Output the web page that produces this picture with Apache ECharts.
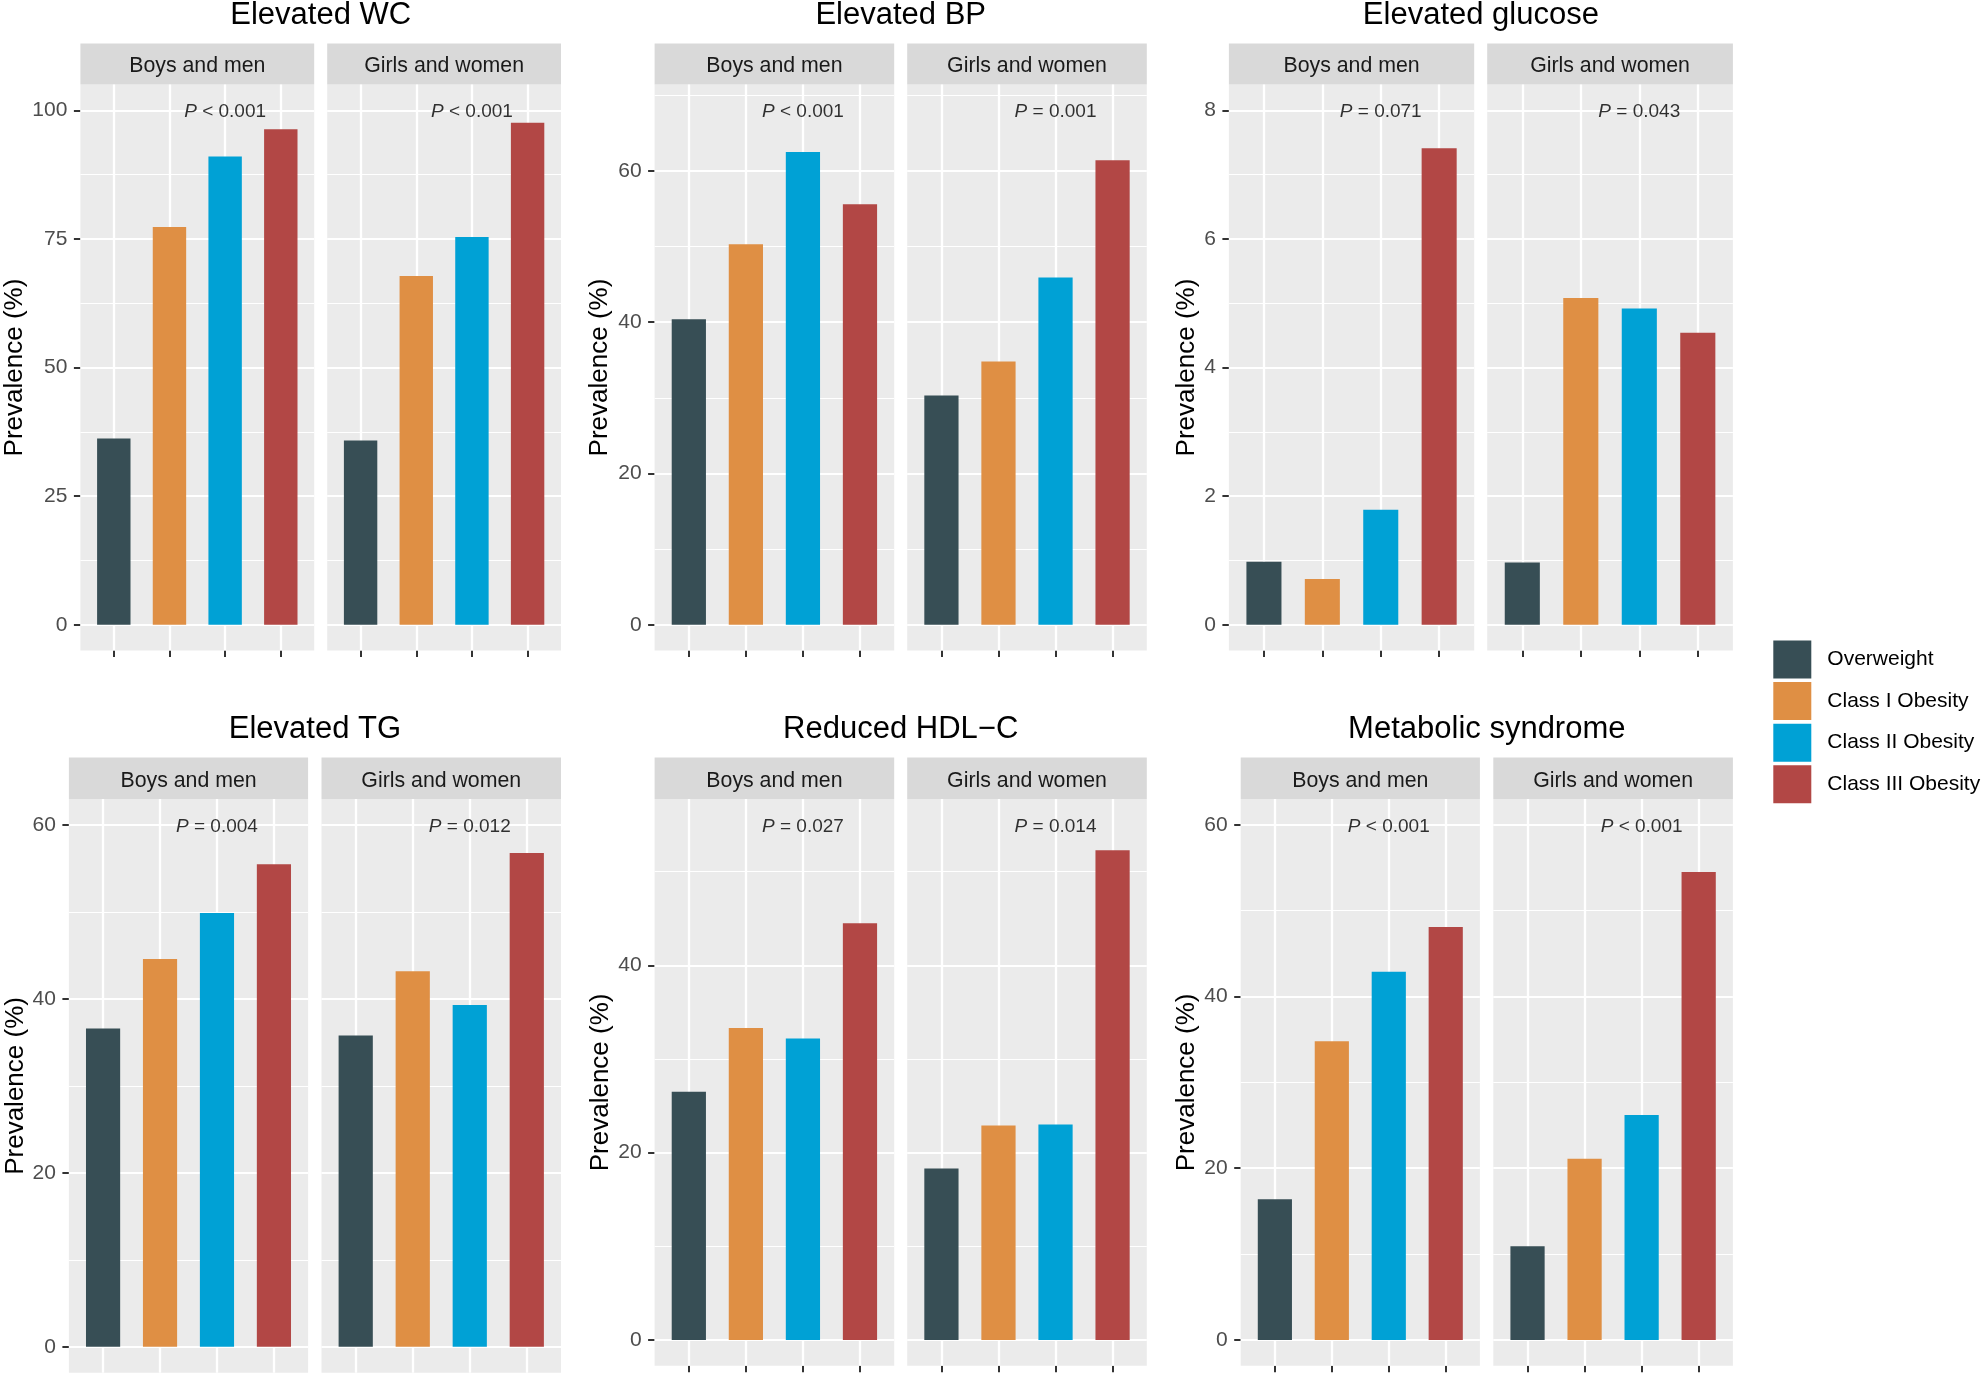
<!DOCTYPE html>
<html><head><meta charset="utf-8">
<script src="https://cdn.jsdelivr.net/npm/echarts@6/dist/echarts.min.js"></script>
<style>html,body{margin:0;padding:0;background:#fff}#c{width:1984px;height:1374px}</style>
</head><body><div id="c"></div>
<script>
// ---------- data ----------
const plotTitles = ['Elevated WC', 'Elevated BP', 'Elevated glucose', 'Elevated TG', 'Reduced HDL\u2212C', 'Metabolic syndrome'];
const sexes = ['Boys and men', 'Girls and women'];
const classes = ['Overweight', 'Class I Obesity', 'Class II Obesity', 'Class III Obesity'];
const classColors = ['#374E55', '#DF8F44', '#00A1D5', '#B24745'];
const catPos = [1, 2, 3, 4];

const wcBoys = [36.2, 77.3, 91.0, 96.3];
const wcGirls = [35.8, 67.8, 75.4, 97.6];
const bpBoys = [40.4, 50.3, 62.5, 55.6];
const bpGirls = [30.3, 34.8, 45.9, 61.4];
const gluBoys = [0.98, 0.71, 1.79, 7.41];
const gluGirls = [0.97, 5.08, 4.92, 4.54];
const tgBoys = [36.6, 44.6, 49.9, 55.5];
const tgGirls = [35.8, 43.2, 39.3, 56.8];
const hdlBoys = [26.5, 33.3, 32.2, 44.5];
const hdlGirls = [18.3, 22.9, 23.0, 52.3];
const metsBoys = [16.4, 34.8, 42.9, 48.1];
const metsGirls = [10.9, 21.1, 26.2, 54.5];

const boysValues = [wcBoys, bpBoys, gluBoys, tgBoys, hdlBoys, metsBoys];
const girlsValues = [wcGirls, bpGirls, gluGirls, tgGirls, hdlGirls, metsGirls];

const pBoys = ['< 0.001', '< 0.001', '= 0.071', '= 0.004', '= 0.027', '< 0.001'];
const pGirls = ['< 0.001', '= 0.001', '= 0.043', '= 0.012', '= 0.014', '< 0.001'];
const pLabelX = 3;
const pLabelY = [100, 68, 8, 60, 55, 60];

const yMin = [-5, -3.4, -0.4, -3, -2.75, -3];
const yMax = [105, 71.4, 8.4, 63, 57.75, 63];
const majorTicks = [[0, 25, 50, 75, 100], [0, 20, 40, 60], [0, 2, 4, 6, 8], [0, 20, 40, 60], [0, 20, 40], [0, 20, 40, 60]];
const minorTicks = [[12.5, 37.5, 62.5, 87.5], [10, 30, 50, 70], [1, 3, 5, 7], [10, 30, 50], [10, 30, 50], [10, 30, 50]];

// ---------- layout (px) ----------
const panelX = [[80.4, 314.2, 327.2, 561], [654.6, 894.2, 907.2, 1146.8], [1228.9, 1474.2, 1487.2, 1732.9],
                [68.9, 308.1, 321.5, 561], [654.6, 894.2, 907.2, 1146.8], [1240.7, 1479.9, 1493.3, 1732.9]];
const panelY = [[84.6, 650.5], [84.6, 650.5], [84.6, 650.5], [799.1, 1372.8], [799.1, 1365.7], [799.1, 1365.7]];
const stripY = [[43.4, 84.6], [43.4, 84.6], [43.4, 84.6], [757.6, 799.1], [757.6, 799.1], [757.6, 799.1]];
const titleY = [15.5, 15.5, 15.5, 729.5, 729.5, 729.5];
const nameGaps = [53, 41.5, 29, 40.5, 40.5, 40.5];
const showXTicks = [true, true, true, false, true, true];
const FONT = "'Liberation Sans', Arial, Helvetica, sans-serif";

const grids = [], xAxes = [], yAxes = [], series = [], graphics = [];

for (let p = 0; p < 6; p++) {
  for (let s = 0; s < 2; s++) {
    const g = p * 2 + s;
    const x0 = panelX[p][s * 2], x1 = panelX[p][s * 2 + 1];
    const y0 = panelY[p][0], y1 = panelY[p][1];
    grids.push({ left: x0, top: y0, width: x1 - x0, height: y1 - y0, show: true,
      backgroundColor: '#EBEBEB', borderWidth: 0, containLabel: false });
    xAxes.push({ gridIndex: g, type: 'value', min: 0.4, max: 4.6, position: 'bottom',
      axisLine: { show: false, onZero: false },
      axisTick: { show: showXTicks[p], customValues: catPos, length: 6.5, lineStyle: { color: '#333333', width: 2 } },
      axisLabel: { show: false, customValues: catPos },
      splitLine: { show: false } });
    yAxes.push({ gridIndex: g, type: 'value', min: yMin[p], max: yMax[p], position: 'left',
      axisLine: { show: false, onZero: false },
      axisTick: { show: s === 0, customValues: majorTicks[p], length: 6.5, lineStyle: { color: '#333333', width: 2 } },
      axisLabel: { show: s === 0, customValues: majorTicks[p], fontSize: 21, color: '#4D4D4D', margin: 13,
        fontFamily: FONT, padding: [3, 0, 0, 0] },
      splitLine: { show: false },
      name: s === 0 ? 'Prevalence (%)' : '', nameLocation: 'middle', nameGap: nameGaps[p],
      nameTextStyle: { fontSize: 26, color: '#000000', fontFamily: FONT } });

    // grid lines (white) drawn from tick positions
    const mlData = [];
    majorTicks[p].forEach(v => mlData.push({ yAxis: v, lineStyle: { width: 2.2 } }));
    minorTicks[p].forEach(v => mlData.push({ yAxis: v, lineStyle: { width: 1.1 } }));
    catPos.forEach(v => mlData.push({ xAxis: v, lineStyle: { width: 2.3 } }));
    series.push({ type: 'line', name: 'grid' + g, xAxisIndex: g, yAxisIndex: g, data: [], silent: true,
      markLine: { silent: true, symbol: ['none', 'none'], z: 1, animation: false,
        label: { show: false }, lineStyle: { color: '#FFFFFF', type: 'solid' }, data: mlData } });

    const vals = s === 0 ? boysValues[p] : girlsValues[p];
    const bw = (x1 - x0) / 4.2 * 0.6;
    for (let c = 0; c < 4; c++) {
      series.push({ type: 'bar', name: classes[c], xAxisIndex: g, yAxisIndex: g,
        data: [[catPos[c], vals[c]]], barWidth: bw, barGap: '-100%', z: 3,
        itemStyle: { color: classColors[c] } });
    }
    const ptxt = s === 0 ? pBoys[p] : pGirls[p];
    series.push({ type: 'scatter', name: 'p' + g, xAxisIndex: g, yAxisIndex: g, silent: true, z: 4,
      data: [[pLabelX, pLabelY[p]]], symbolSize: 0.01, itemStyle: { color: 'rgba(0,0,0,0)' },
      label: { show: true, position: 'inside', offset: [0, 1.5], formatter: '{i|P} ' + ptxt, fontSize: 19, color: '#000000', fontFamily: FONT,
        rich: { i: { fontStyle: 'italic', fontSize: 19, color: '#000000', fontFamily: FONT } } } });

    // strip
    const sy0 = stripY[p][0], sy1 = stripY[p][1];
    graphics.push({ type: 'rect', silent: true, shape: { x: x0, y: sy0, width: x1 - x0, height: sy1 - sy0 }, style: { fill: '#D9D9D9' } });
    graphics.push({ type: 'text', silent: true, x: (x0 + x1) / 2, y: (sy0 + sy1) / 2 + 2.5,
      style: { text: sexes[s], fill: '#1A1A1A', font: '21.3px ' + FONT, textAlign: 'center', textVerticalAlign: 'middle', align: 'center', verticalAlign: 'middle' } });
  }
  const tx = (panelX[p][0] + panelX[p][3]) / 2;
  graphics.push({ type: 'text', silent: true, x: tx, y: titleY[p],
    style: { text: plotTitles[p], fill: '#000000', font: '31px ' + FONT, textAlign: 'center', textVerticalAlign: 'middle', align: 'center', verticalAlign: 'middle' } });
}

const chart = echarts.init(document.getElementById('c'), null, { renderer: 'canvas', width: 1984, height: 1374 });
chart.setOption({
  backgroundColor: '#FFFFFF',
  animation: false,
  textStyle: { fontFamily: FONT },
  grid: grids, xAxis: xAxes, yAxis: yAxes, series: series,
  legend: { data: classes, orient: 'vertical', left: 1773.3, top: 640.5, padding: 0,
    itemWidth: 38, itemHeight: 38, itemGap: 3.6, icon: 'rect', selectedMode: false,
    textStyle: { fontSize: 21, color: '#000000', fontFamily: FONT, padding: [4, 0, 0, 11] } },
  graphic: { elements: graphics }
});
</script></body></html>
